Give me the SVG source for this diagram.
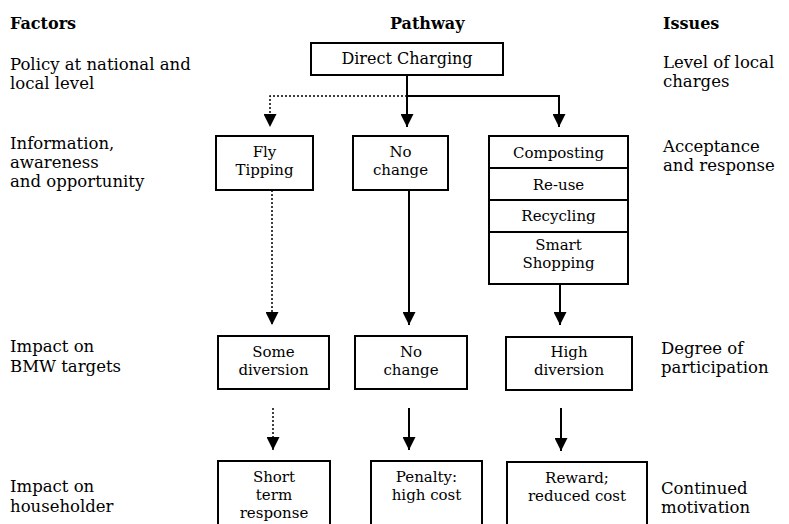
<svg xmlns="http://www.w3.org/2000/svg" width="789" height="524" viewBox="0 0 789 524">
<style>
text{font-family:"DejaVu Serif","Liberation Serif",serif;fill:#000}
.side{font-size:16.5px}
.hdr{font-size:16px;font-weight:bold}
.bt{font-size:15px;text-anchor:middle}
.box{fill:#fff;stroke:#000;stroke-width:2}
.ln{fill:none;stroke:#000;stroke-width:2}
.dot{fill:none;stroke:#000;stroke-width:1.5;stroke-dasharray:2 2}
</style>
<defs>
<marker id="ah" markerUnits="userSpaceOnUse" markerWidth="13" markerHeight="13" viewBox="0 -6 12 12" refX="12" refY="0" orient="auto">
<path d="M0,-6 L12,0 L0,6 z" fill="#000"/>
</marker>
</defs>
<rect width="789" height="524" fill="#fff"/>
<g id="labels">
<text class="hdr" x="10" y="29">Factors</text>
<text class="hdr" x="390" y="29">Pathway</text>
<text class="hdr" x="663" y="29">Issues</text>
<text class="side" x="10" y="70">Policy at national and</text>
<text class="side" x="10" y="89">local level</text>
<text class="side" x="10" y="149">Information,</text>
<text class="side" x="10" y="168">awareness</text>
<text class="side" x="10" y="187">and opportunity</text>
<text class="side" x="10" y="352">Impact on</text>
<text class="side" x="10" y="372">BMW targets</text>
<text class="side" x="10" y="492">Impact on</text>
<text class="side" x="10" y="512">householder</text>
<text class="side" x="663" y="68">Level of local</text>
<text class="side" x="663" y="87">charges</text>
<text class="side" x="663" y="152">Acceptance</text>
<text class="side" x="663" y="171">and response</text>
<text class="side" x="661" y="354">Degree of</text>
<text class="side" x="661" y="373">participation</text>
<text class="side" x="661" y="494">Continued</text>
<text class="side" x="661" y="513">motivation</text>
</g>
<g id="connectors">
<path class="ln" d="M407,75 V127" marker-end="url(#ah)"/>
<path class="ln" d="M407,96 H559 V127" marker-end="url(#ah)"/>
<path class="dot" d="M407,96 H270 V127" marker-end="url(#ah)"/>
<path class="dot" d="M272,190 V325" marker-end="url(#ah)"/>
<path class="ln" d="M409,190 V325" marker-end="url(#ah)"/>
<path class="ln" d="M560,284 V325" marker-end="url(#ah)"/>
<path class="dot" d="M273,408 V450" marker-end="url(#ah)"/>
<path class="ln" d="M409,408 V450" marker-end="url(#ah)"/>
<path class="ln" d="M561,408 V451" marker-end="url(#ah)"/>
</g>
<g id="direct-charging">
<rect class="box" x="311" y="43" width="192" height="32"/>
<text class="bt" x="407" y="64" style="font-size:16px">Direct Charging</text>
</g>
<g id="fly-tipping">
<rect class="box" x="216" y="136" width="97" height="54"/>
<text class="bt" x="264.5" y="157">Fly</text>
<text class="bt" x="264.5" y="175">Tipping</text>
</g>
<g id="no-change-1">
<rect class="box" x="353" y="136" width="95" height="54"/>
<text class="bt" x="400.5" y="157">No</text>
<text class="bt" x="400.5" y="175">change</text>
</g>
<g id="actions">
<rect class="box" x="489" y="136" width="139" height="148"/>
<path class="ln" d="M489,168 H628 M489,200 H628 M489,232 H628"/>
<text class="bt" x="558.5" y="158">Composting</text>
<text class="bt" x="558.5" y="190">Re-use</text>
<text class="bt" x="558.5" y="221">Recycling</text>
<text class="bt" x="558.5" y="250">Smart</text>
<text class="bt" x="558.5" y="268">Shopping</text>
</g>
<g id="some-diversion">
<rect class="box" x="218" y="336" width="111" height="53"/>
<text class="bt" x="273.5" y="357">Some</text>
<text class="bt" x="273.5" y="375">diversion</text>
</g>
<g id="no-change-2">
<rect class="box" x="355" y="336" width="112" height="53"/>
<text class="bt" x="411" y="357">No</text>
<text class="bt" x="411" y="375">change</text>
</g>
<g id="high-diversion">
<rect class="box" x="506" y="337" width="126" height="53"/>
<text class="bt" x="569" y="357">High</text>
<text class="bt" x="569" y="375">diversion</text>
</g>
<g id="short-term">
<rect class="box" x="218" y="461" width="112" height="66"/>
<text class="bt" x="274" y="482">Short</text>
<text class="bt" x="274" y="500">term</text>
<text class="bt" x="274" y="518">response</text>
</g>
<g id="penalty">
<rect class="box" x="371" y="461" width="111" height="66"/>
<text class="bt" x="426.5" y="482">Penalty:</text>
<text class="bt" x="426.5" y="500">high cost</text>
</g>
<g id="reward">
<rect class="box" x="507" y="462" width="140" height="65"/>
<text class="bt" x="577" y="483">Reward;</text>
<text class="bt" x="577" y="501">reduced cost</text>
</g>
</svg>
